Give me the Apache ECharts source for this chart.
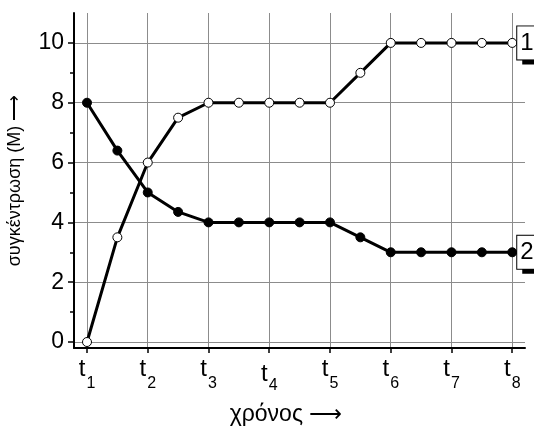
<!DOCTYPE html>
<html>
<head>
<meta charset="utf-8">
<script src="https://cdn.jsdelivr.net/npm/echarts@6/dist/echarts.min.js"></script>
<style>
  html, body { margin: 0; background: #fff; }
  #chart { width: 534px; height: 426px; }
</style>
</head>
<body>
<div id="chart"></div>
<script>
// time points (t1 .. t8 with half steps)
const times = [1, 1.5, 2, 2.5, 3, 3.5, 4, 4.5, 5, 5.5, 6, 6.5, 7, 7.5, 8];
// curve 1 (open circles) and curve 2 (filled circles)
const curve1 = [0, 3.5, 6, 7.5, 8, 8, 8, 8, 8, 9, 10, 10, 10, 10, 10];
const curve2 = [8, 6.4, 5, 4.35, 4, 4, 4, 4, 4, 3.5, 3, 3, 3, 3, 3];
const xTicks = [1, 2, 3, 4, 5, 6, 7, 8];
const yTicks = [0, 2, 4, 6, 8, 10];
const yMinorTicks = [1, 3, 5, 7, 9];

const font = '"Liberation Sans", Arial, sans-serif';
const chart = echarts.init(document.getElementById('chart'));

function pairs(ys) {
  return times.map((t, i) => [t, ys[i]]);
}

const endLabel = {
  show: true,
  formatter: '{a}',
  distance: 5,
  color: '#000',
  fontFamily: font,
  fontSize: 24,
  backgroundColor: '#fff',
  borderColor: '#000',
  borderWidth: 1,
  padding: [5, 4, 4, 3],
  shadowColor: '#000',
  shadowBlur: 0,
  shadowOffsetX: 6,
  shadowOffsetY: 4
};

// "t" with a subscript index; t4 sits a little lower in the original
function tickLabel(v) {
  return v === 4 ? `{tl|t}{sl|${v}}` : `{t|t}{s|${v}}`;
}
const tStyle = { fontFamily: font, fontSize: 24, color: '#000', verticalAlign: 'top' };
const sStyle = { fontFamily: font, fontSize: 16, color: '#000', verticalAlign: 'bottom' };

chart.setOption({
  animation: false,
  grid: { left: 74, right: 9, top: 13, bottom: 78, outerBoundsMode: 'none' },
  xAxis: {
    type: 'value',
    min: 0.786,
    max: 8.21,
    name: 'χρόνος ⟶',
    nameLocation: 'middle',
    nameGap: 55,
    nameTextStyle: { fontFamily: font, fontSize: 23, color: '#000', padding: [0, 27, 0, 0] },
    axisLine: { onZero: false, lineStyle: { color: '#000', width: 2 } },
    axisTick: { customValues: xTicks, length: 5, lineStyle: { color: '#000', width: 1.5 } },
    axisLabel: {
      customValues: xTicks,
      margin: 9,
      formatter: tickLabel,
      rich: {
        t: tStyle,
        s: Object.assign({ padding: [19, 0, 0, 1] }, sStyle),
        tl: Object.assign({ padding: [5, 0, 0, 0] }, tStyle),
        sl: Object.assign({ padding: [21, 0, 0, 1] }, sStyle)
      }
    },
    splitLine: { show: true, lineStyle: { color: '#8c8c8c', width: 1 } }
  },
  yAxis: [{
    type: 'value',
    min: -0.2,
    max: 11,
    name: 'συγκέντρωση (M) ⟶',
    nameLocation: 'middle',
    nameRotate: 90,
    nameGap: 50,
    nameTextStyle: { fontFamily: font, fontSize: 18, color: '#000' },
    axisLine: { show: true, lineStyle: { color: '#000', width: 2 } },
    axisTick: { show: true, customValues: yTicks, length: 6, lineStyle: { color: '#000', width: 1.5 } },
    axisLabel: { customValues: yTicks, margin: 10, fontFamily: font, fontSize: 23, color: '#000' },
    splitLine: { show: true, lineStyle: { color: '#8c8c8c', width: 1 } }
  }, {
    type: 'value',
    position: 'left',
    min: -0.2,
    max: 11,
    axisLine: { show: false },
    axisTick: { show: true, customValues: yMinorTicks, length: 4, lineStyle: { color: '#000', width: 1.5 } },
    axisLabel: { show: false },
    splitLine: { show: false }
  }],
  series: [{
    name: '2',
    type: 'line',
    data: pairs(curve2),
    symbol: 'circle',
    symbolSize: 9,
    lineStyle: { color: '#000', width: 3 },
    itemStyle: { color: '#000', borderColor: '#000', borderWidth: 1 },
    endLabel: endLabel
  }, {
    name: '1',
    type: 'line',
    data: pairs(curve1),
    symbol: 'circle',
    symbolSize: 9,
    lineStyle: { color: '#000', width: 3 },
    itemStyle: { color: '#fff', borderColor: '#000', borderWidth: 1 },
    endLabel: endLabel
  }]
});
</script>
</body>
</html>
